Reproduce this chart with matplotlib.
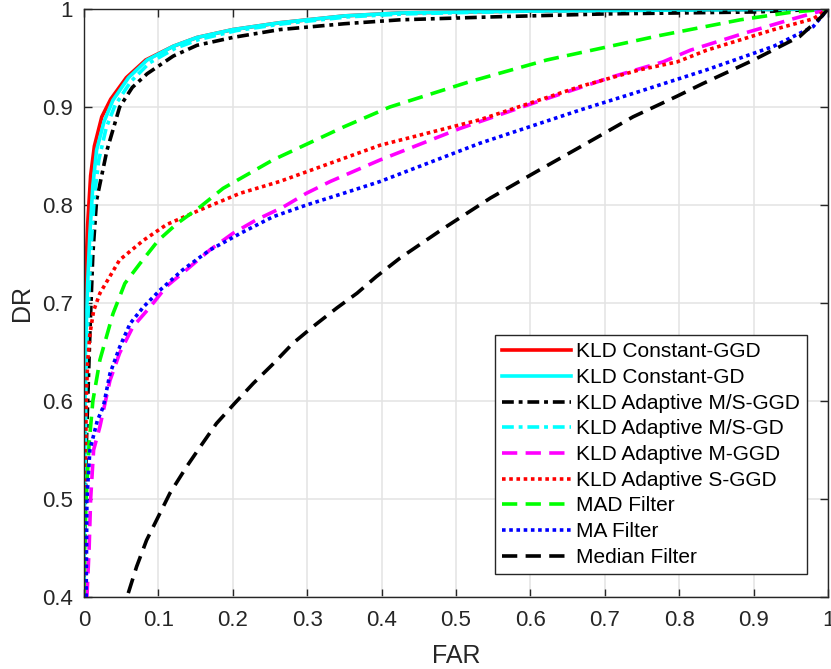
import matplotlib
matplotlib.use("Agg")
import matplotlib.pyplot as plt

# ROC curves: detection rate vs. false alarm rate for each detector.
far_const_ggd = [0.0, 0.0005, 0.002, 0.005, 0.009, 0.014, 0.024, 0.036, 0.057, 0.083, 0.12, 0.152, 0.2, 0.263, 0.35, 0.425, 0.6, 0.8, 1.0]
dr_const_ggd = [0.4, 0.65, 0.72, 0.78, 0.83, 0.86, 0.89, 0.908, 0.93, 0.948, 0.962, 0.971, 0.979, 0.986, 0.993, 0.996, 0.998, 0.999, 1.0]

far_const_gd = [0.0, 0.002, 0.005, 0.008, 0.012, 0.017, 0.027, 0.039, 0.06, 0.085, 0.12, 0.152, 0.2, 0.263, 0.35, 0.425, 0.6, 0.8, 1.0]
dr_const_gd = [0.4, 0.65, 0.72, 0.771, 0.82, 0.856, 0.885, 0.907, 0.93, 0.948, 0.962, 0.971, 0.979, 0.986, 0.993, 0.996, 0.998, 0.999, 1.0]

far_adapt_msggd = [0.0, 0.003, 0.008, 0.012, 0.017, 0.031, 0.048, 0.065, 0.085, 0.12, 0.152, 0.2, 0.263, 0.35, 0.425, 0.55, 0.7, 0.9, 1.0]
dr_adapt_msggd = [0.4, 0.55, 0.669, 0.75, 0.805, 0.856, 0.9, 0.92, 0.934, 0.952, 0.963, 0.971, 0.979, 0.985, 0.989, 0.992, 0.995, 0.997, 1.0]

far_adapt_msgd = [0.0, 0.003, 0.007, 0.01, 0.014, 0.02, 0.03, 0.042, 0.063, 0.088, 0.123, 0.155, 0.205, 0.268, 0.355, 0.43, 0.6, 0.8, 1.0]
dr_adapt_msgd = [0.4, 0.64, 0.715, 0.762, 0.808, 0.846, 0.879, 0.902, 0.926, 0.945, 0.96, 0.969, 0.978, 0.985, 0.992, 0.995, 0.998, 0.999, 1.0]

far_adapt_mggd = [0.004, 0.007, 0.009, 0.013, 0.0215, 0.035, 0.048, 0.066, 0.089, 0.111, 0.138, 0.169, 0.2, 0.232, 0.268, 0.299, 0.331, 0.398, 0.505, 0.604, 0.711, 0.778, 0.815, 0.886, 0.953, 1.0]
dr_adapt_mggd = [0.4, 0.45, 0.5, 0.55, 0.574, 0.621, 0.649, 0.676, 0.696, 0.717, 0.734, 0.754, 0.771, 0.785, 0.798, 0.812, 0.824, 0.846, 0.878, 0.904, 0.931, 0.946, 0.958, 0.975, 0.99, 1.0]

far_adapt_sggd = [0.001, 0.002, 0.003, 0.005, 0.008, 0.013, 0.0215, 0.048, 0.08, 0.111, 0.156, 0.21, 0.263, 0.398, 0.532, 0.667, 0.747, 0.797, 0.837, 0.927, 0.98, 1.0]
dr_adapt_sggd = [0.4, 0.5, 0.6, 0.64, 0.668, 0.692, 0.71, 0.744, 0.764, 0.78, 0.795, 0.812, 0.824, 0.861, 0.887, 0.921, 0.938, 0.946, 0.958, 0.979, 0.99, 1.0]

far_mad = [0.0, 0.001, 0.003, 0.007, 0.012, 0.0215, 0.039, 0.055, 0.075, 0.1, 0.125, 0.156, 0.187, 0.254, 0.35, 0.411, 0.519, 0.622, 0.774, 0.882, 0.953, 1.0]
dr_mad = [0.4, 0.45, 0.5, 0.557, 0.6, 0.642, 0.689, 0.72, 0.74, 0.764, 0.781, 0.798, 0.817, 0.846, 0.88, 0.9, 0.926, 0.948, 0.973, 0.989, 0.997, 1.0]

far_ma = [0.003, 0.004, 0.008, 0.018, 0.026, 0.035, 0.048, 0.062, 0.08, 0.102, 0.133, 0.169, 0.21, 0.254, 0.299, 0.349, 0.398, 0.532, 0.667, 0.747, 0.837, 0.927, 0.98, 1.0]
dr_ma = [0.4, 0.5, 0.55, 0.58, 0.594, 0.628, 0.655, 0.679, 0.696, 0.713, 0.734, 0.754, 0.771, 0.788, 0.8, 0.812, 0.824, 0.863, 0.897, 0.916, 0.938, 0.962, 0.982, 1.0]

far_median = [0.0596, 0.0708, 0.0842, 0.0999, 0.1156, 0.138, 0.156, 0.178, 0.203, 0.2276, 0.2544, 0.281, 0.308, 0.34, 0.367, 0.393, 0.425, 0.483, 0.546, 0.608, 0.671, 0.738, 0.797, 0.832, 0.9, 0.962, 0.991, 1.0]
dr_median = [0.404, 0.431, 0.458, 0.482, 0.506, 0.533, 0.553, 0.577, 0.598, 0.618, 0.638, 0.659, 0.676, 0.695, 0.71, 0.727, 0.746, 0.776, 0.807, 0.834, 0.861, 0.89, 0.911, 0.924, 0.948, 0.972, 0.992, 1.0]

x_ticks = [0, 0.1, 0.2, 0.3, 0.4, 0.5, 0.6, 0.7, 0.8, 0.9, 1]
y_ticks = [0.4, 0.5, 0.6, 0.7, 0.8, 0.9, 1]

DASH = (0, (11, 6))
DOT = (0, (2.6, 2.6))
DASHDOT = (0, (8.5, 3.5, 2.8, 3.5))

curves = [
    (far_const_ggd, dr_const_ggd, "KLD Constant-GGD", "#ff0000", "-"),
    (far_const_gd, dr_const_gd, "KLD Constant-GD", "#00ffff", "-"),
    (far_adapt_msggd, dr_adapt_msggd, "KLD Adaptive M/S-GGD", "#000000", DASHDOT),
    (far_adapt_msgd, dr_adapt_msgd, "KLD Adaptive M/S-GD", "#00ffff", DASHDOT),
    (far_adapt_mggd, dr_adapt_mggd, "KLD Adaptive M-GGD", "#ff00ff", DASH),
    (far_adapt_sggd, dr_adapt_sggd, "KLD Adaptive S-GGD", "#ff0000", DOT),
    (far_mad, dr_mad, "MAD Filter", "#00ff00", DASH),
    (far_ma, dr_ma, "MA Filter", "#0000ff", DOT),
    (far_median, dr_median, "Median Filter", "#000000", DASH),
]

plt.rcParams["font.family"] = ["Liberation Sans", "DejaVu Sans"]
plt.rcParams["lines.scale_dashes"] = False

fig = plt.figure(figsize=(8.31, 6.69), dpi=100)
ax = fig.add_axes([0.101, 0.1076, 0.8954, 0.8789])

for far, dr, label, color, ls in curves:
    ax.plot(far, dr, color=color, linestyle=ls, linewidth=2.6, label=label,
            solid_joinstyle="round", dash_capstyle="butt")

ax.set_xlim(0, 1)
ax.set_ylim(0.4, 1)
ax.set_xticks(x_ticks)
ax.set_yticks(y_ticks)
ax.set_xticklabels([f"{t:g}" for t in x_ticks])
ax.set_yticklabels([f"{t:g}" for t in y_ticks])
ax.grid(True, color="#e3e3e3", linewidth=1.1)
ax.set_axisbelow(True)

axis_color = "#262626"
for side in ax.spines.values():
    side.set_color(axis_color)
    side.set_linewidth(1.0)
ax.tick_params(direction="in", length=6, width=1.0, color=axis_color,
               top=True, right=True, labelsize=16, labelcolor=axis_color)
ax.tick_params(axis="x", pad=9)
ax.tick_params(axis="y", pad=8)

ax.set_xlabel("FAR", fontsize=18, color=axis_color, labelpad=10)
ax.set_ylabel("DR", fontsize=18, color=axis_color, labelpad=6)

leg = ax.legend(loc="lower right", bbox_to_anchor=(0.972, 0.039), fontsize=15,
                handlelength=3.3, handletextpad=0.25, labelspacing=0.32,
                borderpad=0.35, borderaxespad=0, fancybox=False, framealpha=1)
leg.get_frame().set_edgecolor("#262626")
leg.get_frame().set_linewidth(1.0)

fig.savefig("out.png", dpi=100)
